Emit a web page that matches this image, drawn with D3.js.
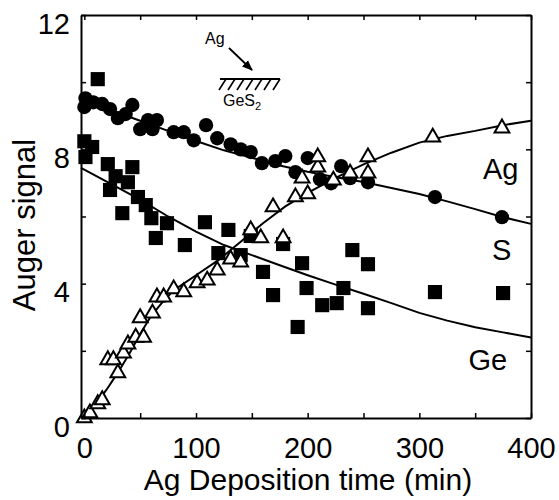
<!DOCTYPE html>
<html>
<head>
<meta charset="utf-8">
<script src="https://cdn.jsdelivr.net/npm/d3@7"></script>
<style>
  body { margin: 0; background: #fff; }
  svg { font-family: "Liberation Sans", Arial, sans-serif; }
  .axis path, .axis line { stroke: #000; }
  .axis path { stroke-width: 2px; }
  .axis line { stroke-width: 1.5px; }
  .axis text { font-size: 29px; fill: #000; font-family: "Liberation Sans", Arial, sans-serif; }
  .fit { fill: none; stroke: #000; stroke-width: 2px; }
</style>
</head>
<body>
<script>
// tick values
var xTicks = [0, 50, 100, 150, 200, 250, 300, 350, 400];
var yTicks = [0, 2, 4, 6, 8, 10, 12];

// S signal (filled circles), [time, signal]
var sPoints = [
  [0, 9.26], [1, 9.52], [8, 9.40], [16, 9.35], [23, 9.2], [30, 8.93], [37, 9.05], [43, 9.32],
  [50, 8.6], [57, 8.87], [65, 8.87], [61, 8.6], [80, 8.51], [89, 8.51], [98, 8.27], [109, 8.72],
  [119, 8.33], [131, 8.15], [140, 8.0], [149, 7.92], [159, 7.59], [171, 7.65], [180, 7.8],
  [189, 7.32], [200, 7.74], [211, 7.11], [221, 6.99], [230, 7.5], [238, 7.14], [254, 7.02],
  [314, 6.58], [374, 5.98]
];

// Ge signal (filled squares)
var gePoints = [
  [12, 10.09], [0, 8.24], [7, 8.07], [1, 7.77], [21, 7.56], [43, 7.47], [28, 7.2], [23, 6.79],
  [39, 7.02], [48, 6.58], [55, 6.34], [34, 6.1], [60, 5.95], [74, 5.8], [64, 5.36], [90, 5.15],
  [108, 5.83], [129, 5.6], [120, 4.91], [140, 4.85], [160, 4.35], [149, 5.42], [178, 5.18],
  [195, 4.61], [169, 3.66], [199, 3.87], [213, 3.36], [226, 3.42], [232, 3.87], [191, 2.71],
  [240, 5.0], [254, 4.58], [254, 3.27], [314, 3.75], [375, 3.72]
];

// Ag signal (open triangles)
var agPoints = [
  [0, 0.0], [5, 0.15], [12, 0.42], [16, 0.54], [21, 1.73], [26, 1.73], [30, 1.34], [35, 1.93],
  [39, 2.2], [46, 2.4], [53, 2.4], [50, 2.98], [61, 3.12], [65, 3.6], [71, 3.6], [80, 3.84],
  [89, 3.75], [101, 4.02], [110, 4.1], [119, 4.4], [131, 4.73], [140, 4.64], [149, 5.6],
  [158, 5.36], [178, 5.36], [169, 6.28], [189, 6.58], [200, 6.67], [195, 7.14], [209, 7.47],
  [209, 7.77], [223, 7.08], [238, 7.29], [254, 7.77], [254, 7.29], [312, 8.36], [374, 8.63]
];

// hand drawn fit curves
var agFit = [
  [0, 0], [10, 0.4], [20, 0.85], [30, 1.35], [40, 1.9], [50, 2.5], [60, 3.05], [70, 3.45],
  [80, 3.8], [100, 4.25], [120, 4.7], [140, 5.25], [160, 5.8], [180, 6.3], [200, 6.7],
  [225, 7.15], [250, 7.55], [275, 7.9], [300, 8.2], [325, 8.4], [350, 8.55], [375, 8.72], [400, 8.85]
];
var sFit = [
  [0, 9.4], [25, 9.15], [50, 8.85], [75, 8.55], [100, 8.25], [125, 7.97], [150, 7.75],
  [175, 7.52], [200, 7.33], [225, 7.17], [250, 7.03], [275, 6.85], [300, 6.67], [325, 6.45],
  [350, 6.22], [375, 5.98], [400, 5.78]
];
var geFit = [
  [-3, 7.45], [25, 6.95], [50, 6.5], [75, 6.0], [100, 5.55], [125, 5.15], [150, 4.85],
  [175, 4.55], [200, 4.25], [225, 3.97], [250, 3.7], [275, 3.42], [300, 3.13], [325, 2.9],
  [350, 2.7], [375, 2.55], [400, 2.4]
];

var width = 559, height = 500;
var svg = d3.select("body").append("svg")
    .attr("width", width)
    .attr("height", height);

// plot box: left 81, right 531, top 15, bottom 418
var x = d3.scaleLinear().domain([-3, 400]).range([81, 531]);
var y = d3.scaleLinear().domain([0, 12]).range([418, 15]);

// fit lines
var line = d3.line()
    .x(function(d) { return x(d[0]); })
    .y(function(d) { return y(d[1]); });

[agFit, sFit, geFit].forEach(function(f) {
  svg.append("path")
      .datum(f)
      .attr("class", "fit")
      .attr("d", line);
});

// markers
svg.append("g").selectAll("path")
    .data(gePoints)
  .enter().append("path")
    .attr("transform", function(d) { return "translate(" + x(d[0]) + "," + y(d[1]) + ")"; })
    .attr("d", d3.symbol().type(d3.symbolSquare).size(200))
    .attr("fill", "#000");

svg.append("g").selectAll("path")
    .data(sPoints)
  .enter().append("path")
    .attr("transform", function(d) { return "translate(" + x(d[0]) + "," + y(d[1]) + ")"; })
    .attr("d", d3.symbol().type(d3.symbolCircle).size(160))
    .attr("fill", "#000");

svg.append("g").selectAll("path")
    .data(agPoints)
  .enter().append("path")
    .attr("transform", function(d) { return "translate(" + x(d[0]) + "," + y(d[1]) + ")"; })
    .attr("d", d3.symbol().type(d3.symbolTriangle).size(95))
    .attr("fill", "#fff")
    .attr("stroke", "#000")
    .attr("stroke-width", 2);

// axes, ticks pointing inward on all four sides
svg.append("g")
    .attr("class", "axis")
    .attr("transform", "translate(0," + y(0) + ")")
    .call(d3.axisBottom(x).tickValues(xTicks).tickSize(-5).tickSizeOuter(0).tickPadding(19)
      .tickFormat(function(d) { return d % 100 === 0 ? d : ""; }));

svg.append("g")
    .attr("class", "axis")
    .attr("transform", "translate(" + x.range()[0] + ",0)")
    .call(d3.axisLeft(y).tickValues(yTicks).tickSize(-5).tickSizeOuter(0).tickPadding(11)
      .tickFormat(function(d) { return d % 4 === 0 ? d : ""; }))
  .selectAll("text")
    .attr("dy", "0.63em");

svg.append("g")
    .attr("class", "axis")
    .attr("transform", "translate(0," + y(12) + ")")
    .call(d3.axisTop(x).tickValues(xTicks).tickSize(-5).tickSizeOuter(0).tickFormat(""));

svg.append("g")
    .attr("class", "axis")
    .attr("transform", "translate(" + x.range()[1] + ",0)")
    .call(d3.axisRight(y).tickValues(yTicks).tickSize(-5).tickSizeOuter(0).tickFormat(""));

// axis titles
svg.append("text")
    .attr("x", 308)
    .attr("y", 490)
    .attr("text-anchor", "middle")
    .style("font-size", "30px")
    .text("Ag Deposition time (min)");

svg.append("text")
    .attr("transform", "translate(35,225) rotate(-90)")
    .attr("text-anchor", "middle")
    .style("font-size", "31px")
    .text("Auger signal");

// curve labels
var labels = [["Ag", 357, 7.12], ["S", 365, 4.7], ["Ge", 344, 1.44]];
svg.selectAll(".lbl")
    .data(labels)
  .enter().append("text")
    .attr("class", "lbl")
    .attr("x", function(d) { return x(d[1]); })
    .attr("y", function(d) { return y(d[2]); })
    .style("font-size", "29px")
    .text(function(d) { return d[0]; });

// inset sketch: Ag arriving on GeS2 surface
var inset = svg.append("g");
inset.append("text")
    .attr("x", 205).attr("y", 44)
    .style("font-size", "16px")
    .text("Ag");
inset.append("defs").append("marker")
    .attr("id", "arr")
    .attr("viewBox", "0 0 10 10")
    .attr("refX", 9).attr("refY", 5)
    .attr("markerWidth", 6).attr("markerHeight", 6)
    .attr("orient", "auto")
  .append("path")
    .attr("d", "M0,1L10,5L0,9Z");
inset.append("line")
    .attr("x1", 229).attr("y1", 48)
    .attr("x2", 252).attr("y2", 70)
    .attr("stroke", "#000").attr("stroke-width", 1.8)
    .attr("marker-end", "url(#arr)");
inset.append("line")
    .attr("x1", 220).attr("y1", 79)
    .attr("x2", 280).attr("y2", 79)
    .attr("stroke", "#000").attr("stroke-width", 2);
d3.range(7).forEach(function(i) {
  var hx = 226 + i * 9;
  inset.append("line")
      .attr("x1", hx).attr("y1", 79)
      .attr("x2", hx - 7).attr("y2", 90)
      .attr("stroke", "#000").attr("stroke-width", 1.6);
});
var ges = inset.append("text")
    .attr("x", 223).attr("y", 106)
    .style("font-size", "16px");
ges.append("tspan").text("GeS");
ges.append("tspan").attr("dy", 4).style("font-size", "11px").text("2");
</script>
</body>
</html>
